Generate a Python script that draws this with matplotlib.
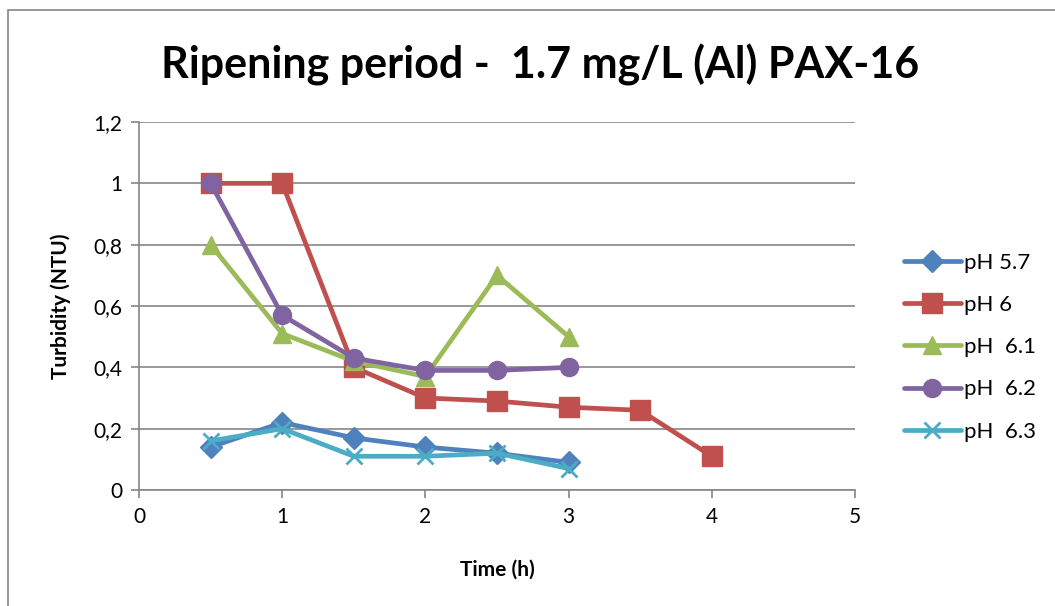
import numpy as np
import matplotlib.pyplot as plt
from matplotlib.patches import Rectangle

plt.rcParams['font.family'] = ['Lato', 'DejaVu Sans']

times_short = [0.5, 1, 1.5, 2, 2.5, 3]
times_long = [0.5, 1, 1.5, 2, 2.5, 3, 3.5, 4]

ph57 = [0.14, 0.22, 0.17, 0.14, 0.12, 0.09]
ph60 = [1.0, 1.0, 0.40, 0.30, 0.29, 0.27, 0.26, 0.11]
ph61 = [0.80, 0.51, 0.42, 0.37, 0.70, 0.50]
ph62 = [1.0, 0.57, 0.43, 0.39, 0.39, 0.40]
ph63 = [0.16, 0.20, 0.11, 0.11, 0.12, 0.07]

labels = ["pH 5.7", "pH 6", "pH  6.1", "pH  6.2", "pH  6.3"]
series = [(times_short, ph57, '#4F81BD', 'D', 11),
          (times_long, ph60, '#C0504D', 's', 14),
          (times_short, ph61, '#9BBB59', '^', 13),
          (times_short, ph62, '#8064A2', 'o', 13),
          (times_short, ph63, '#4BACC6', 'x', 12)]

fig = plt.figure(figsize=(10.55, 6.06), dpi=100)
ax = fig.add_axes([0.1318, 0.1914, 0.6786, 0.6073])

for (x, y, c, m, ms), lab in zip(series, labels):
    ax.plot(x, y, color=c, lw=3.4, marker=m, markersize=ms, markeredgewidth=2 if m == 'x' else 1,
            markeredgecolor=c, label=lab, solid_capstyle='round')

ax.set_xlim(0, 5)
ax.set_ylim(0, 1.2)
ax.set_xticks(range(6))
ax.set_yticks([0, 0.2, 0.4, 0.6, 0.8, 1.0, 1.2])
ax.set_yticklabels(["0", "0,2", "0,4", "0,6", "0,8", "1", "1,2"])
ax.tick_params(labelsize=15, color='#868686', length=6, width=1.2, direction='out', pad=6)
ax.yaxis.grid(True, color='#868686', lw=1.2)
ax.set_axisbelow(True)
for s in ['top', 'right']:
    ax.spines[s].set_visible(False)
for s in ['left', 'bottom']:
    ax.spines[s].set_color('#868686')
    ax.spines[s].set_linewidth(1.2)

ax.set_xlabel("Time (h)", fontsize=15, fontweight='bold', labelpad=24)
ax.set_ylabel("Turbidity (NTU)", fontsize=15, fontweight='bold', labelpad=16)
fig.text(0.512, 0.893, "Ripening period -  1.7 mg/L (Al) PAX-16", fontsize=31,
         fontweight='bold', ha='center', va='center')

ax.legend(loc='center left', bbox_to_anchor=(1.04, 0.388), frameon=False, fontsize=16,
          handlelength=2.6, labelspacing=1.0, handletextpad=0.1)

fig.patches.append(Rectangle((0.0076, -0.1), 1.1, 1.083, transform=fig.transFigure,
                             fill=False, edgecolor='#868686', lw=1.2))

fig.savefig("out.png", dpi=100)
